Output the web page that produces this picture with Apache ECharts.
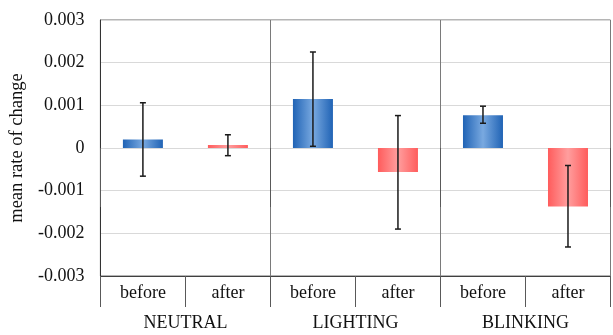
<!DOCTYPE html>
<html>
<head>
<meta charset="utf-8">
<script src="https://cdn.jsdelivr.net/npm/echarts@6/dist/echarts.min.js"></script>
<style>
html,body{margin:0;padding:0;background:#fff;}
#chart{width:613px;height:335px;}
</style>
</head>
<body>
<div id="chart"></div>
<script>
// Data
const conditions = ['before', 'after', 'before', 'after', 'before', 'after'];
const groups = ['NEUTRAL', 'LIGHTING', 'BLINKING'];
const meanValues = [0.00020, 0.00007, 0.00115, -0.00056, 0.00077, -0.00137];
const errorLow = [-0.00066, -0.00018, 0.00004, -0.00190, 0.00058, -0.00232];
const errorHigh = [0.00106, 0.00031, 0.00225, 0.00076, 0.00098, -0.00041];
const yTicks = [-0.003, -0.002, -0.001, 0, 0.001, 0.002, 0.003];

const FONT = '"Liberation Serif", "DejaVu Serif", serif';

function grad(edge, mid) {
  return new echarts.graphic.LinearGradient(0, 0, 1, 0, [
    { offset: 0, color: edge },
    { offset: 0.5, color: mid },
    { offset: 1, color: edge }
  ]);
}
const blueGrad = () => grad('#2063b5', '#79a9e0');
const redGrad = () => grad('#ff5c5c', '#ff9e9e');

const barData = meanValues.map((v, i) => ({
  value: v,
  itemStyle: { color: conditions[i] === 'before' ? blueGrad() : redGrad() }
}));
const errData = meanValues.map((v, i) => [i, errorLow[i], errorHigh[i]]);

const chart = echarts.init(document.getElementById('chart'), null, { renderer: 'canvas' });
chart.setOption({
  animation: false,
  backgroundColor: '#fff',
  grid: { left: 99, right: 2.5, top: 20, bottom: 59, show: true, borderColor: '#6b6b6b', borderWidth: 1 },
  xAxis: [
    {
      type: 'category',
      data: conditions,
      position: 'bottom',
      axisLine: { onZero: false, lineStyle: { color: '#404040', width: 1 } },
      axisTick: { show: true, interval: 0, length: 31, lineStyle: { color: '#595959' } },
      axisLabel: { interval: 0, margin: 8, fontFamily: FONT, fontSize: 18, color: '#111' },
      splitLine: { show: false }
    },
    {
      type: 'category',
      data: groups,
      position: 'bottom',
      axisLine: { show: false },
      axisTick: { show: true, interval: 0, length: 59, lineStyle: { color: '#595959' } },
      axisLabel: { interval: 0, margin: 38, fontFamily: FONT, fontSize: 18, color: '#111' },
      splitLine: { show: true, lineStyle: { color: '#7a7a7a', width: 1 } }
    }
  ],
  yAxis: {
    type: 'value',
    min: yTicks[0],
    max: yTicks[yTicks.length - 1],
    interval: 0.001,
    name: 'mean rate of change',
    nameLocation: 'middle',
    nameGap: 69,
    nameRotate: 90,
    nameTextStyle: { fontFamily: FONT, fontSize: 18.5, color: '#111' },
    axisLine: { show: true, lineStyle: { color: '#333', width: 1 } },
    axisTick: { show: false },
    axisLabel: {
      margin: 16,
      fontFamily: FONT,
      fontSize: 18,
      color: '#111',
      formatter: v => Math.abs(v) < 1e-12 ? '0' : v.toFixed(3)
    },
    splitLine: { show: true, lineStyle: { color: '#d9d9d9', width: 1 } }
  },
  series: [
    {
      type: 'bar',
      xAxisIndex: 0,
      data: barData,
      barWidth: 40,
      z: 2
    },
    {
      type: 'custom',
      xAxisIndex: 0,
      data: errData,
      z: 5,
      renderItem: function (params, api) {
        const x = api.value(0);
        const lo = api.coord([x, api.value(1)]);
        const hi = api.coord([x, api.value(2)]);
        const cap = 3;
        const style = { stroke: '#1a1a1a', lineWidth: 1.5 };
        return {
          type: 'group',
          children: [
            { type: 'line', shape: { x1: hi[0], y1: hi[1], x2: lo[0], y2: lo[1] }, style },
            { type: 'line', shape: { x1: hi[0] - cap, y1: hi[1], x2: hi[0] + cap, y2: hi[1] }, style },
            { type: 'line', shape: { x1: lo[0] - cap, y1: lo[1], x2: lo[0] + cap, y2: lo[1] }, style }
          ]
        };
      }
    }
  ]
});
</script>
</body>
</html>
